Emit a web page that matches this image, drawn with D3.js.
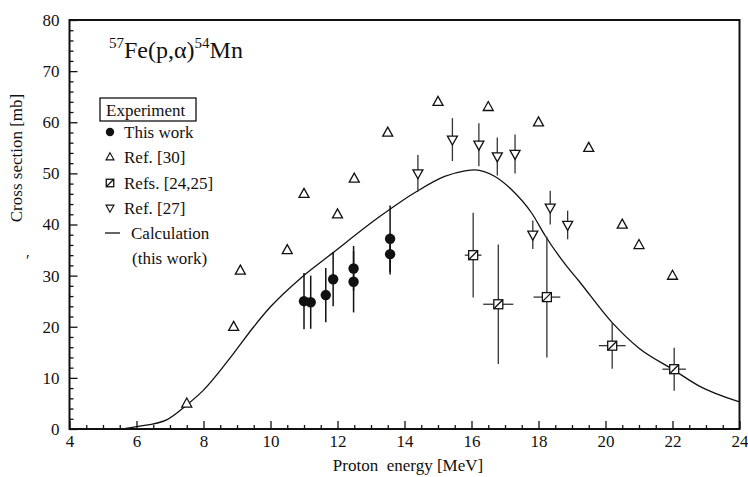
<!DOCTYPE html>
<html>
<head>
<meta charset="utf-8">
<script src="https://cdn.jsdelivr.net/npm/d3@7"></script>
<style>
  html, body { margin: 0; padding: 0; background: #fff; }
  svg { display: block; }
  svg text { font-family: "Liberation Serif", "Times New Roman", "DejaVu Serif", serif; }
</style>
</head>
<body>
<svg id="chart" width="748" height="477"></svg>
<script>
// Ticks
const xTicks = [4, 6, 8, 10, 12, 14, 16, 18, 20, 22, 24];
const yTicks = [0, 10, 20, 30, 40, 50, 60, 70, 80];

// This work: proton energy [MeV], cross section [mb], uncertainty [mb]
const thisWorkE   = [11.0, 11.2, 11.65, 11.87, 12.48, 12.48, 13.57, 13.57];
const thisWorkSig = [25.0, 24.8, 26.2, 29.3, 31.4, 28.8, 37.2, 34.2];
const thisWorkErr = [5.5, 5.2, 5.3, 5.3, 4.4, 6.0, 6.5, 4.0];

// Ref. [30]
const ref30E   = [7.5, 8.9, 9.1, 10.5, 11, 12, 12.5, 13.5, 15, 16.5, 18, 19.5, 20.5, 21, 22];
const ref30Sig = [5, 20, 31, 35, 46, 42, 49, 58, 64, 63, 60, 55, 40, 36, 30];

// Refs. [24,25]
const ref2425E    = [16.05, 16.8, 18.25, 20.2, 22.05];
const ref2425Sig  = [34, 24.4, 25.8, 16.3, 11.7];
const ref2425ErrY = [8.3, 11.7, 11.8, 4.5, 4.2];
const ref2425ErrX = [0.25, 0.45, 0.4, 0.4, 0.35];

// Ref. [27]
const ref27E   = [14.4, 15.43, 16.22, 16.77, 17.3, 17.83, 18.35, 18.87];
const ref27Sig = [50.0, 56.6, 55.6, 53.3, 53.8, 38.0, 43.3, 39.9];
const ref27Err = [3.6, 4.2, 4.2, 3.7, 3.8, 2.8, 3.3, 2.8];

// Calculation (this work)
const calcE   = [5.6, 6.0, 6.9, 7.5, 8.0, 8.9, 9.5, 10.0, 10.9, 11.85, 13.25, 14.35, 15.2, 15.8, 16.1, 16.7, 17.2, 17.8, 18.2, 18.8, 19.2, 20.2, 21.0, 22.0, 22.8, 24.0];
const calcSig = [0.0, 0.45, 1.8, 4.7, 7.6, 14.8, 20.0, 23.9, 29.5, 34.4, 41.5, 46.4, 49.4, 50.5, 50.7, 49.4, 46.8, 42.2, 37.8, 32.2, 29.0, 20.8, 15.8, 11.7, 8.4, 5.3];

const serif = "'Liberation Serif', 'Times New Roman', 'DejaVu Serif', serif";
const svg = d3.select("#chart");
const plot = { left: 69.5, right: 739.5, top: 20, bottom: 429 };

const x = d3.scaleLinear().domain([4, 24]).range([plot.left, plot.right]);
const y = d3.scaleLinear().domain([0, 80]).range([plot.bottom, plot.top]);

const ink = "#111";

// Frame
svg.append("rect")
  .attr("x", plot.left).attr("y", plot.top)
  .attr("width", plot.right - plot.left).attr("height", plot.bottom - plot.top)
  .attr("fill", "none").attr("stroke", ink).attr("stroke-width", 2);

// Bottom axis: inward ticks
const xAxis = d3.axisBottom(x).tickValues(xTicks).tickSize(-8).tickPadding(6).tickFormat(d3.format("d"));
const gx = svg.append("g").attr("transform", `translate(0,${plot.bottom})`).call(xAxis);
const xMinor = d3.axisBottom(x).tickValues(d3.range(4.5, 24, 0.5).filter(v => v % 2 !== 0)).tickSize(-4).tickFormat("");
const gxm = svg.append("g").attr("transform", `translate(0,${plot.bottom})`).call(xMinor);

// Left axis: inward ticks
const yAxis = d3.axisLeft(y).tickValues(yTicks).tickSize(-8).tickPadding(10).tickFormat(d3.format("d"));
const gy = svg.append("g").attr("transform", `translate(${plot.left},0)`).call(yAxis);
const yMinor = d3.axisLeft(y).tickValues(d3.range(2, 80, 2).filter(v => v % 10 !== 0)).tickSize(-4).tickFormat("");
const gym = svg.append("g").attr("transform", `translate(${plot.left},0)`).call(yMinor);

[gx, gxm, gy, gym].forEach(g => {
  g.attr("font-family", serif).attr("font-size", 17);
  g.select(".domain").remove();
  g.selectAll(".tick line").attr("stroke", ink).attr("stroke-width", 1.3);
  g.selectAll(".tick text").attr("fill", ink);
});

// Axis titles
svg.append("text")
  .attr("x", 408).attr("y", 471)
  .attr("text-anchor", "middle").attr("font-size", 17).attr("fill", ink)
  .attr("xml:space", "preserve")
  .text("Proton  energy [MeV]");

svg.append("text")
  .attr("transform", "translate(22,158) rotate(-90)")
  .attr("text-anchor", "middle").attr("font-size", 17).attr("fill", ink)
  .text("Cross section [mb]");

svg.append("text")
  .attr("x", 26).attr("y", 266)
  .attr("font-size", 16).attr("fill", ink)
  .text("\u2032");

// Calculation curve
const line = d3.line()
  .x((d, i) => x(calcE[i]))
  .y((d, i) => y(calcSig[i]))
  .curve(d3.curveMonotoneX);
svg.append("path")
  .datum(calcE)
  .attr("d", line)
  .attr("fill", "none").attr("stroke", ink).attr("stroke-width", 1.3);

// Symbol helpers
function triUp(cx, cy, s) {
  const h = s * 0.9;
  return `M${cx},${cy - h * 0.6}L${cx + s / 2},${cy + h * 0.4}L${cx - s / 2},${cy + h * 0.4}Z`;
}
function triDown(cx, cy, s) {
  const h = s * 0.9;
  return `M${cx},${cy + h * 0.6}L${cx + s / 2},${cy - h * 0.4}L${cx - s / 2},${cy - h * 0.4}Z`;
}
function slashSquare(g, cx, cy, s) {
  g.append("rect")
    .attr("x", cx - s / 2).attr("y", cy - s / 2).attr("width", s).attr("height", s)
    .attr("fill", "#fff").attr("stroke", ink).attr("stroke-width", 1.3);
  g.append("line")
    .attr("x1", cx - s / 2).attr("y1", cy + s / 2).attr("x2", cx + s / 2).attr("y2", cy - s / 2)
    .attr("stroke", ink).attr("stroke-width", 1.3);
}

const marks = svg.append("g");
const barInk = "#333";

// Refs. [24,25]: error bars then squares
ref2425E.forEach((e, i) => {
  const cx = x(e), cy = y(ref2425Sig[i]);
  marks.append("line")
    .attr("x1", cx).attr("x2", cx)
    .attr("y1", y(ref2425Sig[i] + ref2425ErrY[i])).attr("y2", y(ref2425Sig[i] - ref2425ErrY[i]))
    .attr("stroke", barInk).attr("stroke-width", 1.3);
  marks.append("line")
    .attr("y1", cy).attr("y2", cy)
    .attr("x1", x(e - ref2425ErrX[i])).attr("x2", x(e + ref2425ErrX[i]))
    .attr("stroke", barInk).attr("stroke-width", 1.3);
  slashSquare(marks, cx, cy, 9);
});

// Ref. [27]: error bars then downward triangles
ref27E.forEach((e, i) => {
  const cx = x(e), cy = y(ref27Sig[i]);
  marks.append("line")
    .attr("x1", cx).attr("x2", cx)
    .attr("y1", y(ref27Sig[i] + ref27Err[i])).attr("y2", y(ref27Sig[i] - ref27Err[i]))
    .attr("stroke", barInk).attr("stroke-width", 1.3);
  marks.append("path")
    .attr("d", triDown(cx, cy, 10))
    .attr("fill", "#fff").attr("stroke", ink).attr("stroke-width", 1.3);
});

// Ref. [30]: open upward triangles
ref30E.forEach((e, i) => {
  marks.append("path")
    .attr("d", triUp(x(e), y(ref30Sig[i]), 10))
    .attr("fill", "#fff").attr("stroke", ink).attr("stroke-width", 1.3);
});

// This work: error bars and filled points
thisWorkE.forEach((e, i) => {
  marks.append("line")
    .attr("x1", x(e)).attr("x2", x(e))
    .attr("y1", y(thisWorkSig[i] + thisWorkErr[i])).attr("y2", y(thisWorkSig[i] - thisWorkErr[i]))
    .attr("stroke", ink).attr("stroke-width", 1.5);
});
thisWorkE.forEach((e, i) => {
  marks.append("circle")
    .attr("cx", x(e)).attr("cy", y(thisWorkSig[i])).attr("r", 5.2)
    .attr("fill", ink);
});

// Reaction title with superscripted mass numbers
const title = svg.append("text")
  .attr("x", 109).attr("y", 58)
  .attr("font-size", 24).attr("fill", ink);
title.append("tspan").attr("font-size", 15).attr("dy", -10).text("57");
title.append("tspan").attr("dy", 10).text("Fe(p,\u03b1)");
title.append("tspan").attr("font-size", 15).attr("dy", -10).text("54");
title.append("tspan").attr("dy", 10).text("Mn");

// Legend
const lg = svg.append("g");
lg.append("rect")
  .attr("x", 100).attr("y", 98).attr("width", 96).attr("height", 23)
  .attr("fill", "#fff").attr("stroke", ink).attr("stroke-width", 1.3);
lg.append("text").attr("x", 106).attr("y", 116).attr("font-size", 17).attr("fill", ink).text("Experiment");

const rowY = [138, 163, 189, 214, 239, 264];
const labels = ["This work", "Ref. [30]", "Refs. [24,25]", "Ref. [27]"];
labels.forEach((t, i) => {
  lg.append("text").attr("x", 124).attr("y", rowY[i]).attr("font-size", 17).attr("fill", ink).text(t);
});
const my = rowY.map(v => v - 6);
lg.append("circle").attr("cx", 110).attr("cy", my[0]).attr("r", 4.2).attr("fill", ink);
lg.append("path").attr("d", triUp(110, my[1], 8)).attr("fill", "#fff").attr("stroke", ink).attr("stroke-width", 1.1);
slashSquare(lg, 110, my[2], 7.5);
lg.append("path").attr("d", triDown(110, my[3], 8)).attr("fill", "#fff").attr("stroke", ink).attr("stroke-width", 1.1);
lg.append("line").attr("x1", 105).attr("x2", 120).attr("y1", my[4]).attr("y2", my[4])
  .attr("stroke", ink).attr("stroke-width", 1.3);
lg.append("text").attr("x", 131).attr("y", rowY[4]).attr("font-size", 17).attr("fill", ink).text("Calculation");
lg.append("text").attr("x", 132).attr("y", rowY[5]).attr("font-size", 17).attr("fill", ink).text("(this work)");
</script>
</body>
</html>
